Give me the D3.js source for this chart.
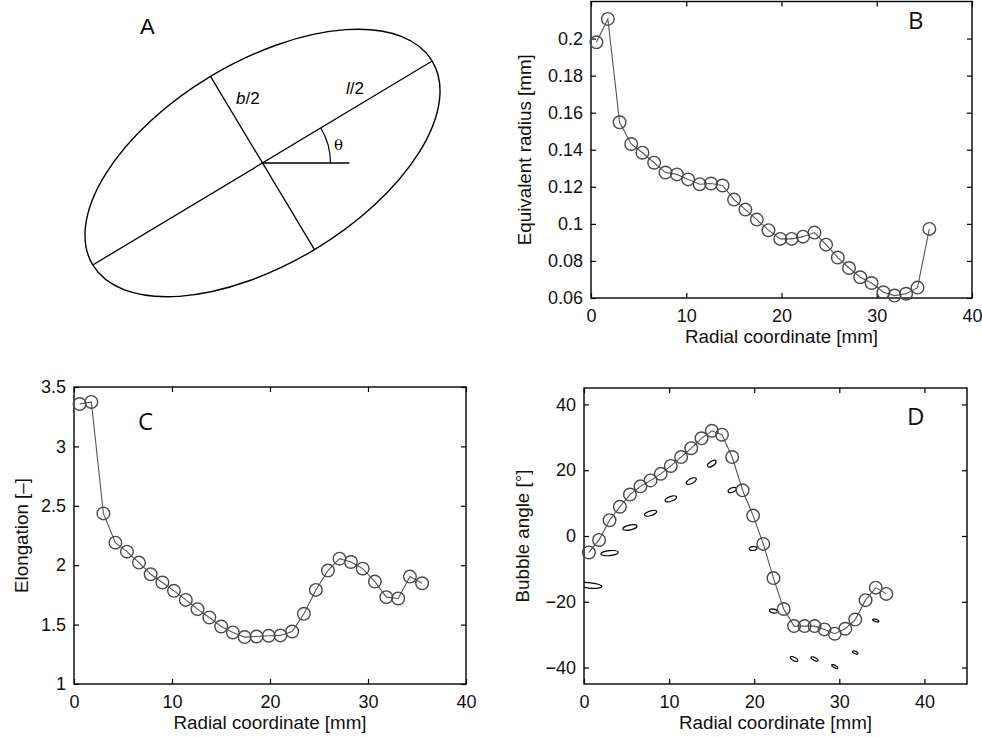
<!DOCTYPE html>
<html>
<head>
<meta charset="utf-8">
<script src="https://cdn.jsdelivr.net/npm/d3@7"></script>
<style>body{margin:0;background:#fff}</style>
</head>
<body>
<script>
// values
var radial = [0.57, 1.77, 3.0, 4.22, 5.4, 6.63, 7.82, 9.02, 10.2, 11.41, 12.6, 13.81, 15.02, 16.21, 17.41,
    18.63, 19.87, 21.06, 22.26, 23.46, 24.68, 25.91, 27.09, 28.26, 29.46, 30.7, 31.87, 33.08, 34.28, 35.52];
var eqRadius = [0.198, 0.2106, 0.1548, 0.1431, 0.1384, 0.133, 0.1277, 0.1267, 0.124, 0.1214, 0.1218, 0.1207,
    0.1131, 0.1077, 0.1023, 0.0966, 0.0919, 0.0919, 0.0931, 0.0953, 0.0888, 0.0818, 0.0762, 0.0712, 0.0681,
    0.0631, 0.0613, 0.0623, 0.0656, 0.0973];
var elongation = [3.357, 3.374, 2.436, 2.19, 2.114, 2.022, 1.924, 1.854, 1.784, 1.708, 1.63, 1.56, 1.484,
    1.434, 1.395, 1.40, 1.406, 1.409, 1.442, 1.591, 1.792, 1.955, 2.055, 2.027, 1.971, 1.862, 1.731, 1.72,
    1.904, 1.848];
var bubbleAngle = [-5.0, -1.2, 4.8, 8.9, 12.6, 15.1, 16.9, 18.9, 21.3, 24.0, 26.7, 29.7, 32.0, 30.8, 24.0,
    13.9, 6.2, -2.4, -12.8, -22.2, -27.4, -27.4, -27.4, -28.4, -29.7, -28.2, -25.4, -19.5, -15.7, -17.6];

var xTicks = [0, 10, 20, 30, 40];
var radiusTicks = [0.06, 0.08, 0.1, 0.12, 0.14, 0.16, 0.18, 0.2];
var elongTicks = [1, 1.5, 2, 2.5, 3, 3.5];
var angleTicks = [-40, -20, 0, 20, 40];

var xTitle = "Radial coordinate [mm]";
var tickFont = "Liberation Sans, Arial, sans-serif";
var letterFont = "Open Sans, sans-serif";

var svg = d3.select("body").append("svg")
    .attr("width", 982).attr("height", 737);
svg.append("rect").attr("width", 982).attr("height", 737).attr("fill", "#fff");

// ---- panel A: the ellipse sketch ----
(function () {
    var cx = 262.5, cy = 163, a = 198, b = 101, th = 31;
    var g = svg.append("g");
    var r = th * Math.PI / 180;
    g.append("ellipse").attr("cx", cx).attr("cy", cy).attr("rx", a).attr("ry", b)
        .attr("transform", "rotate(" + (-th) + "," + cx + "," + cy + ")")
        .attr("fill", "none").attr("stroke", "#000").attr("stroke-width", 1.4);
    g.append("line").attr("x1", cx - a * Math.cos(r)).attr("y1", cy + a * Math.sin(r))
        .attr("x2", cx + a * Math.cos(r)).attr("y2", cy - a * Math.sin(r))
        .attr("stroke", "#000").attr("stroke-width", 1.3);
    g.append("line").attr("x1", cx - b * Math.sin(r)).attr("y1", cy - b * Math.cos(r))
        .attr("x2", cx + b * Math.sin(r)).attr("y2", cy + b * Math.cos(r))
        .attr("stroke", "#000").attr("stroke-width", 1.3);
    g.append("line").attr("x1", cx).attr("y1", cy).attr("x2", cx + 87).attr("y2", cy)
        .attr("stroke", "#000").attr("stroke-width", 1.3);
    var arc = d3.arc().innerRadius(68).outerRadius(68)
        .startAngle(Math.PI / 2 - r).endAngle(Math.PI / 2);
    g.append("path").attr("d", arc()).attr("transform", "translate(" + cx + "," + cy + ")")
        .attr("fill", "none").attr("stroke", "#000").attr("stroke-width", 1.2);

    g.append("text").attr("x", 140).attr("y", 34).text("A")
        .attr("font-family", tickFont).attr("font-size", 22);
    var t1 = g.append("text").attr("x", 236).attr("y", 104)
        .attr("font-family", tickFont).attr("font-size", 17);
    t1.append("tspan").attr("font-style", "italic").text("b");
    t1.append("tspan").text("/2");
    var t2 = g.append("text").attr("x", 346).attr("y", 94)
        .attr("font-family", tickFont).attr("font-size", 17);
    t2.append("tspan").attr("font-style", "italic").text("l");
    t2.append("tspan").text("/2");
    g.append("text").attr("x", 334).attr("y", 150).text("θ")
        .attr("font-family", "DejaVu Serif, serif").attr("font-size", 15);
})();

function drawPanel(p) {
    var x = d3.scaleLinear().domain(p.xDomain).range([p.left, p.right]);
    var y = d3.scaleLinear().domain(p.yDomain).range([p.bottom, p.top]);
    var g = svg.append("g");
    var fmt = function (d) { return (+d.toFixed(3)).toString().replace("-", "\u2212"); };

    var axes = [
        g.append("g").attr("transform", "translate(0," + p.bottom + ")")
            .call(d3.axisBottom(x).tickValues(p.xTicks).tickSizeInner(-5).tickSizeOuter(0)
                .tickPadding(11).tickFormat(fmt)),
        g.append("g").attr("transform", "translate(0," + p.top + ")")
            .call(d3.axisTop(x).tickValues(p.xTicks).tickSizeInner(-5).tickSizeOuter(0).tickFormat("")),
        g.append("g").attr("transform", "translate(" + p.left + ",0)")
            .call(d3.axisLeft(y).tickValues(p.yTicks).tickSizeInner(-5).tickSizeOuter(0)
                .tickPadding(8).tickFormat(fmt)),
        g.append("g").attr("transform", "translate(" + p.right + ",0)")
            .call(d3.axisRight(y).tickValues(p.yTicks).tickSizeInner(-5).tickSizeOuter(0).tickFormat(""))
    ];
    axes.forEach(function (a) {
        a.attr("font-family", tickFont).attr("font-size", 18);
        a.select(".domain").remove();
        a.selectAll(".tick line").attr("stroke", "#000").attr("stroke-width", 1.2);
        a.selectAll(".tick text").attr("fill", "#111");
    });
    g.append("rect").attr("x", p.left).attr("y", p.top)
        .attr("width", p.right - p.left).attr("height", p.bottom - p.top)
        .attr("fill", "none").attr("stroke", "#000").attr("stroke-width", 1.4);

    g.append("text").attr("x", (p.left + p.right) / 2).attr("y", p.bottom + 45)
        .attr("text-anchor", "middle").attr("font-family", tickFont).attr("font-size", 18.8)
        .attr("fill", "#111").text(xTitle);
    g.append("text").attr("transform", "translate(" + (p.left - p.yTitleOff) + "," +
            ((p.top + p.bottom) / 2) + ") rotate(-90)")
        .attr("text-anchor", "middle").attr("font-family", tickFont).attr("font-size", 18.8)
        .attr("fill", "#111").text(p.yTitle);
    g.append("text").attr("x", p.letterX).attr("y", p.letterY).text(p.letter)
        .attr("font-family", letterFont).attr("font-size", 24).attr("fill", "#111");

    if (p.extra) p.extra(g, x, y);

    var line = d3.line().x(function (d, i) { return x(radial[i]); })
        .y(function (d) { return y(d); });
    g.append("path").datum(p.values).attr("d", line)
        .attr("fill", "none").attr("stroke", "#555").attr("stroke-width", 1.1);
    g.selectAll("circle.pt").data(p.values).enter().append("circle").attr("class", "pt")
        .attr("cx", function (d, i) { return x(radial[i]); })
        .attr("cy", function (d) { return y(d); })
        .attr("r", 6.3).attr("fill", "none").attr("stroke", "#4a4a4a").attr("stroke-width", 1.4);
}

drawPanel({
    left: 591, right: 972, top: 1.5, bottom: 298,
    xDomain: [0, 40], yDomain: [0.06, 0.22], xTicks: xTicks, yTicks: radiusTicks,
    values: eqRadius, yTitle: "Equivalent radius [mm]", yTitleOff: 60,
    letter: "B", letterX: 908, letterY: 29
});

drawPanel({
    left: 74, right: 466, top: 387, bottom: 684,
    xDomain: [0, 40], yDomain: [1, 3.5], xTicks: xTicks, yTicks: elongTicks,
    values: elongation, yTitle: "Elongation [\u2013]", yTitleOff: 46,
    letter: "C", letterX: 138, letterY: 430
});

drawPanel({
    left: 584, right: 967, top: 388, bottom: 684,
    xDomain: [0, 45], yDomain: [-45, 45], xTicks: xTicks, yTicks: angleTicks,
    values: bubbleAngle, yTitle: "Bubble angle [\u00b0]", yTitleOff: 55,
    letter: "D", letterX: 907, letterY: 425,
    extra: function (g, x, y) {
        // bubble shapes for every other measurement, drawn 10 degrees below the curve
        var k = 36, flat = 0.7, shift = 10;
        g.append("clipPath").attr("id", "clipD").append("rect")
            .attr("x", 584).attr("y", 388).attr("width", 383).attr("height", 296);
        var idx = d3.range(0, radial.length, 2);
        g.append("g").attr("clip-path", "url(#clipD)")
            .selectAll("ellipse").data(idx).enter().append("ellipse")
            .attr("cx", 0).attr("cy", 0)
            .attr("rx", function (i) { return k * eqRadius[i] * Math.sqrt(elongation[i]); })
            .attr("ry", function (i) { return flat * k * eqRadius[i] / Math.sqrt(elongation[i]); })
            .attr("transform", function (i) {
                return "translate(" + x(radial[i]) + "," + y(bubbleAngle[i] - shift) + ") rotate(" +
                    (-bubbleAngle[i]) + ")";
            })
            .attr("fill", "none").attr("stroke", "#000").attr("stroke-width", 1.2);
    }
});
</script>
</body>
</html>
